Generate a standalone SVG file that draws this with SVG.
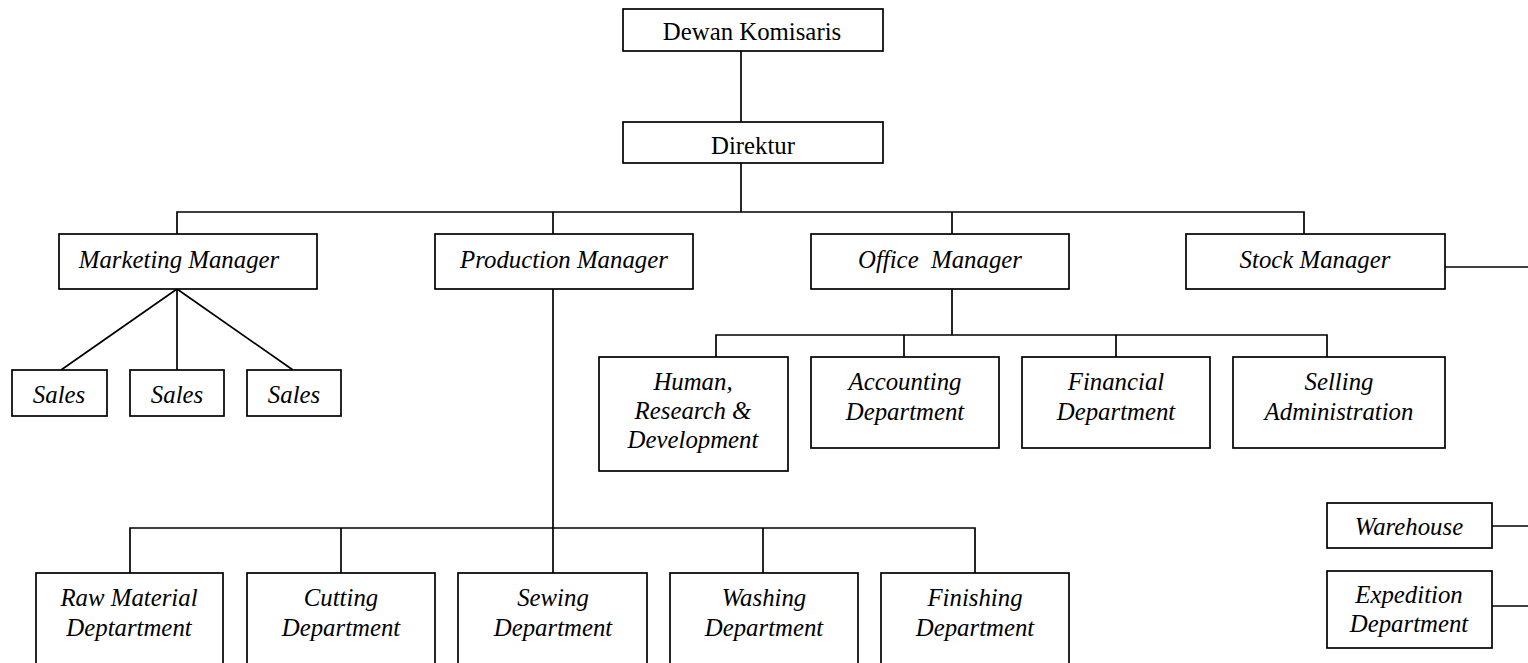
<svg xmlns="http://www.w3.org/2000/svg" width="1528" height="663" viewBox="0 0 1528 663">
<style>
rect{fill:#fff;stroke:#000;stroke-width:1.7}
text{font-family:"Liberation Serif","Times New Roman",serif;font-size:24.8px;font-style:italic;text-anchor:middle;fill:#000;white-space:pre}
text.n{font-style:normal}
#connectors line,#connectors path{stroke:#000;stroke-width:1.7;fill:none}
</style>
<rect x="0" y="0" width="1528" height="663" style="stroke:none"/>
<g id="connectors">
<line x1="741" y1="51" x2="741" y2="122"/>
<line x1="741" y1="163" x2="741" y2="212"/>
<path d="M177 234V212H1304V234"/>
<line x1="553" y1="212" x2="553" y2="234"/>
<line x1="952" y1="212" x2="952" y2="234"/>
<line x1="1445" y1="267" x2="1528" y2="267"/>
<line x1="177" y1="289" x2="61" y2="370"/>
<line x1="177" y1="289" x2="177" y2="370"/>
<line x1="177" y1="289" x2="293" y2="370"/>
<line x1="553" y1="289" x2="553" y2="528"/>
<path d="M130 573V528H975V573"/>
<line x1="341" y1="528" x2="341" y2="573"/>
<line x1="553" y1="528" x2="553" y2="573"/>
<line x1="763" y1="528" x2="763" y2="573"/>
<line x1="952" y1="289" x2="952" y2="335"/>
<path d="M716 357V335H1327V357"/>
<line x1="904" y1="335" x2="904" y2="357"/>
<line x1="1116" y1="335" x2="1116" y2="357"/>
<line x1="1492" y1="526" x2="1528" y2="526"/>
<line x1="1492" y1="606" x2="1528" y2="606"/>
</g>
<g id="dewan"><rect x="623" y="9" width="260" height="42"/><text class="n" x="752" y="40">Dewan Komisaris</text></g>
<g id="direktur"><rect x="623" y="122" width="260" height="41"/><text class="n" x="753" y="154">Direktur</text></g>
<g id="marketing"><rect x="59" y="234" width="258" height="55"/><text x="179" y="268">Marketing Manager</text></g>
<g id="production"><rect x="435" y="234" width="258" height="55"/><text x="564" y="268">Production Manager</text></g>
<g id="office"><rect x="811" y="234" width="258" height="55"/><text x="940" y="268">Office  Manager</text></g>
<g id="stock"><rect x="1186" y="234" width="259" height="55"/><text x="1315" y="268">Stock Manager</text></g>
<g id="sales1"><rect x="12" y="370" width="95" height="46"/><text x="59" y="403">Sales</text></g>
<g id="sales2"><rect x="130" y="370" width="94" height="46"/><text x="177" y="403">Sales</text></g>
<g id="sales3"><rect x="247" y="370" width="94" height="46"/><text x="294" y="403">Sales</text></g>
<g id="hrd"><rect x="599" y="357" width="189" height="114"/><text x="693" y="390">Human,</text><text x="693" y="419">Research &amp;</text><text x="693" y="448">Development</text></g>
<g id="accounting"><rect x="811" y="357" width="188" height="91"/><text x="905" y="390">Accounting</text><text x="905" y="420">Department</text></g>
<g id="financial"><rect x="1022" y="357" width="188" height="91"/><text x="1116" y="390">Financial</text><text x="1116" y="420">Department</text></g>
<g id="selling"><rect x="1233" y="357" width="212" height="91"/><text x="1339" y="390">Selling</text><text x="1339" y="420">Administration</text></g>
<g id="warehouse"><rect x="1327" y="503" width="165" height="45"/><text x="1409" y="535">Warehouse</text></g>
<g id="expedition"><rect x="1327" y="571" width="165" height="77"/><text x="1409" y="603">Expedition</text><text x="1409" y="632">Department</text></g>
<g id="rawmaterial"><rect x="36" y="573" width="187" height="100"/><text x="129" y="606">Raw Material</text><text x="129" y="636">Deptartment</text></g>
<g id="cutting"><rect x="247" y="573" width="188" height="100"/><text x="341" y="606">Cutting</text><text x="341" y="636">Department</text></g>
<g id="sewing"><rect x="458" y="573" width="189" height="100"/><text x="553" y="606">Sewing</text><text x="553" y="636">Department</text></g>
<g id="washing"><rect x="670" y="573" width="188" height="100"/><text x="764" y="606">Washing</text><text x="764" y="636">Department</text></g>
<g id="finishing"><rect x="881" y="573" width="188" height="100"/><text x="975" y="606">Finishing</text><text x="975" y="636">Department</text></g>
</svg>
